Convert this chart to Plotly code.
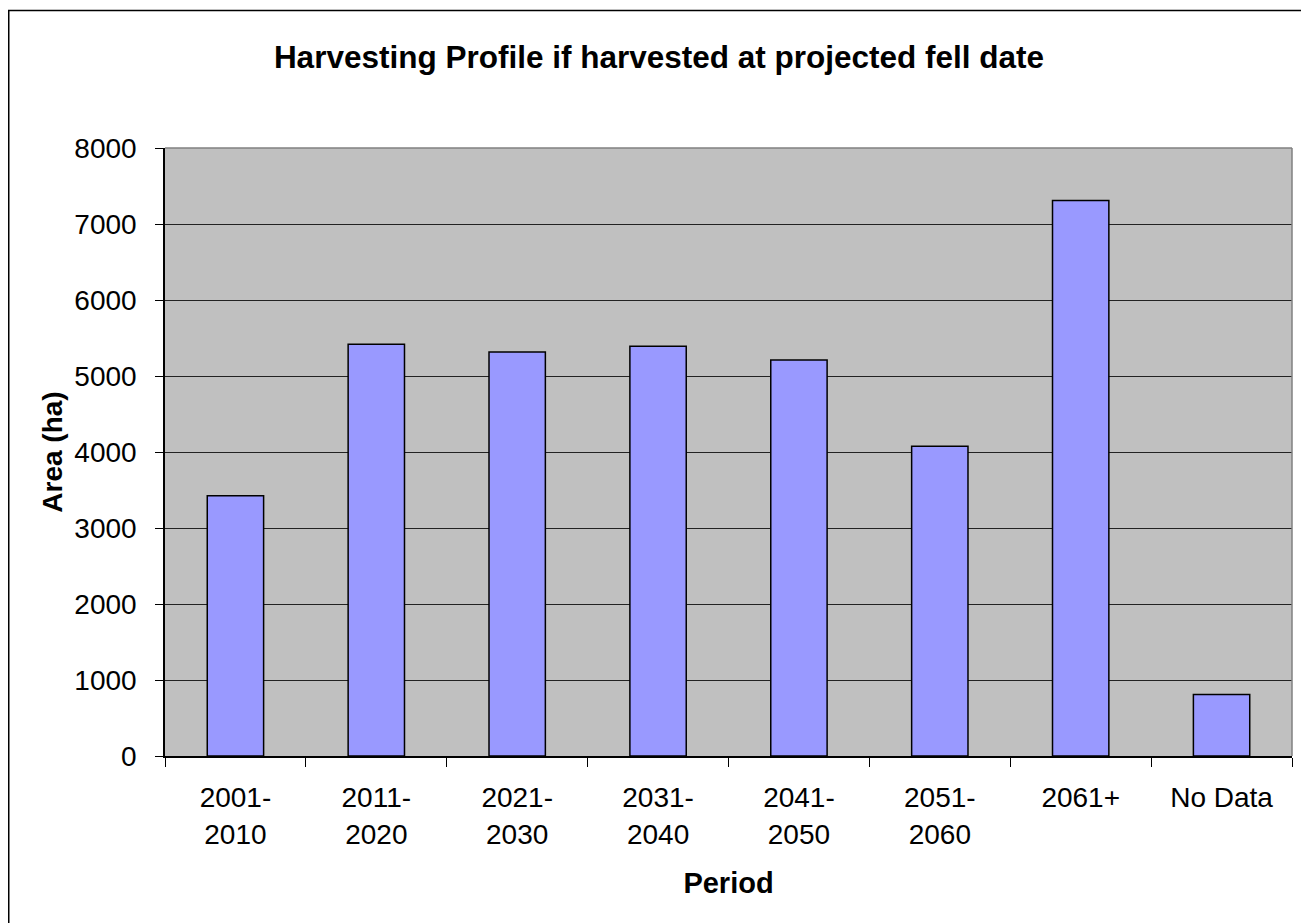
import plotly.graph_objects as go

categories = ["2001-<br>2010", "2011-<br>2020", "2021-<br>2030", "2031-<br>2040",
              "2041-<br>2050", "2051-<br>2060", "2061+", "No Data"]
area_ha = [3425, 5417, 5316, 5390, 5210, 4075, 7310, 810]

title_text = "Harvesting Profile if harvested at projected fell date"
x_title = "Period"
y_title = "Area (ha)"

FONT = "Liberation Sans, Arial, sans-serif"

fig = go.Figure()
fig.add_trace(go.Bar(
    x=categories, y=area_ha, width=0.4,
    marker=dict(color="#9999FF", line=dict(color="black", width=1.5)),
    hoverinfo="x+y",
))

# page has an 8px body margin; work in figure pixels
OFF = 8
W, H = 1309 - OFF, 923 - OFF
L, R, T, B = 165 - OFF, 1292 - OFF, 148 - OFF, 756 - OFF

def px2paper_x(px):
    return (px - L) / (R - L)

def px2paper_y(py):
    return (B - py) / (B - T)

fig.update_layout(
    width=W, height=H,
    margin=dict(l=L, r=W - R, t=T, b=H - B, pad=0),
    paper_bgcolor="white",
    plot_bgcolor="#C0C0C0",
    showlegend=False,
    font=dict(family=FONT, color="black", size=28),
    title=dict(text="<b>" + title_text + "</b>", x=(659 - OFF) / W, xanchor="center",
               y=1 - (57 - OFF) / H, yanchor="middle",
               font=dict(size=31.5, family=FONT, color="black")),
    bargap=0.6,
)

fig.update_xaxes(
    type="category",
    showline=True, linecolor="black", linewidth=1.5,
    ticks="outside", ticklen=9, tickcolor="black", tickwidth=1,
    tickson="boundaries",
    showgrid=False,
    tickfont=dict(size=28, family=FONT),
    ticklabelstandoff=16,
    title=dict(text="<b>" + x_title + "</b>", font=dict(size=29, family=FONT), standoff=24),
)
fig.update_yaxes(
    range=[0, 8000], dtick=1000, tick0=0,
    showline=True, linecolor="black", linewidth=1.5,
    ticks="outside", ticklen=8, tickcolor="black", tickwidth=1,
    showgrid=True, gridcolor="#222222", gridwidth=1,
    zeroline=False,
    tickfont=dict(size=28, family=FONT),
    ticklabelstandoff=13,
    title=dict(text="<b>" + y_title + "</b>", font=dict(size=28, family=FONT), standoff=4),
)

# plot-area border (top and right, gray)
fig.add_shape(type="line", xref="paper", yref="paper", x0=0, x1=1, y0=1, y1=1,
              line=dict(color="#808080", width=1.5), layer="above")
fig.add_shape(type="line", xref="paper", yref="paper", x0=1, x1=1, y0=0, y1=1,
              line=dict(color="#808080", width=1.5), layer="above")

# outer chart frame (left and top visible)
fig.add_shape(type="rect", xref="paper", yref="paper",
              x0=px2paper_x(0.75), x1=px2paper_x(W + 20),
              y0=px2paper_y(H + 20), y1=px2paper_y(2.5),
              line=dict(color="black", width=1.5), fillcolor="rgba(0,0,0,0)", layer="above")

fig.write_html("out.html")
